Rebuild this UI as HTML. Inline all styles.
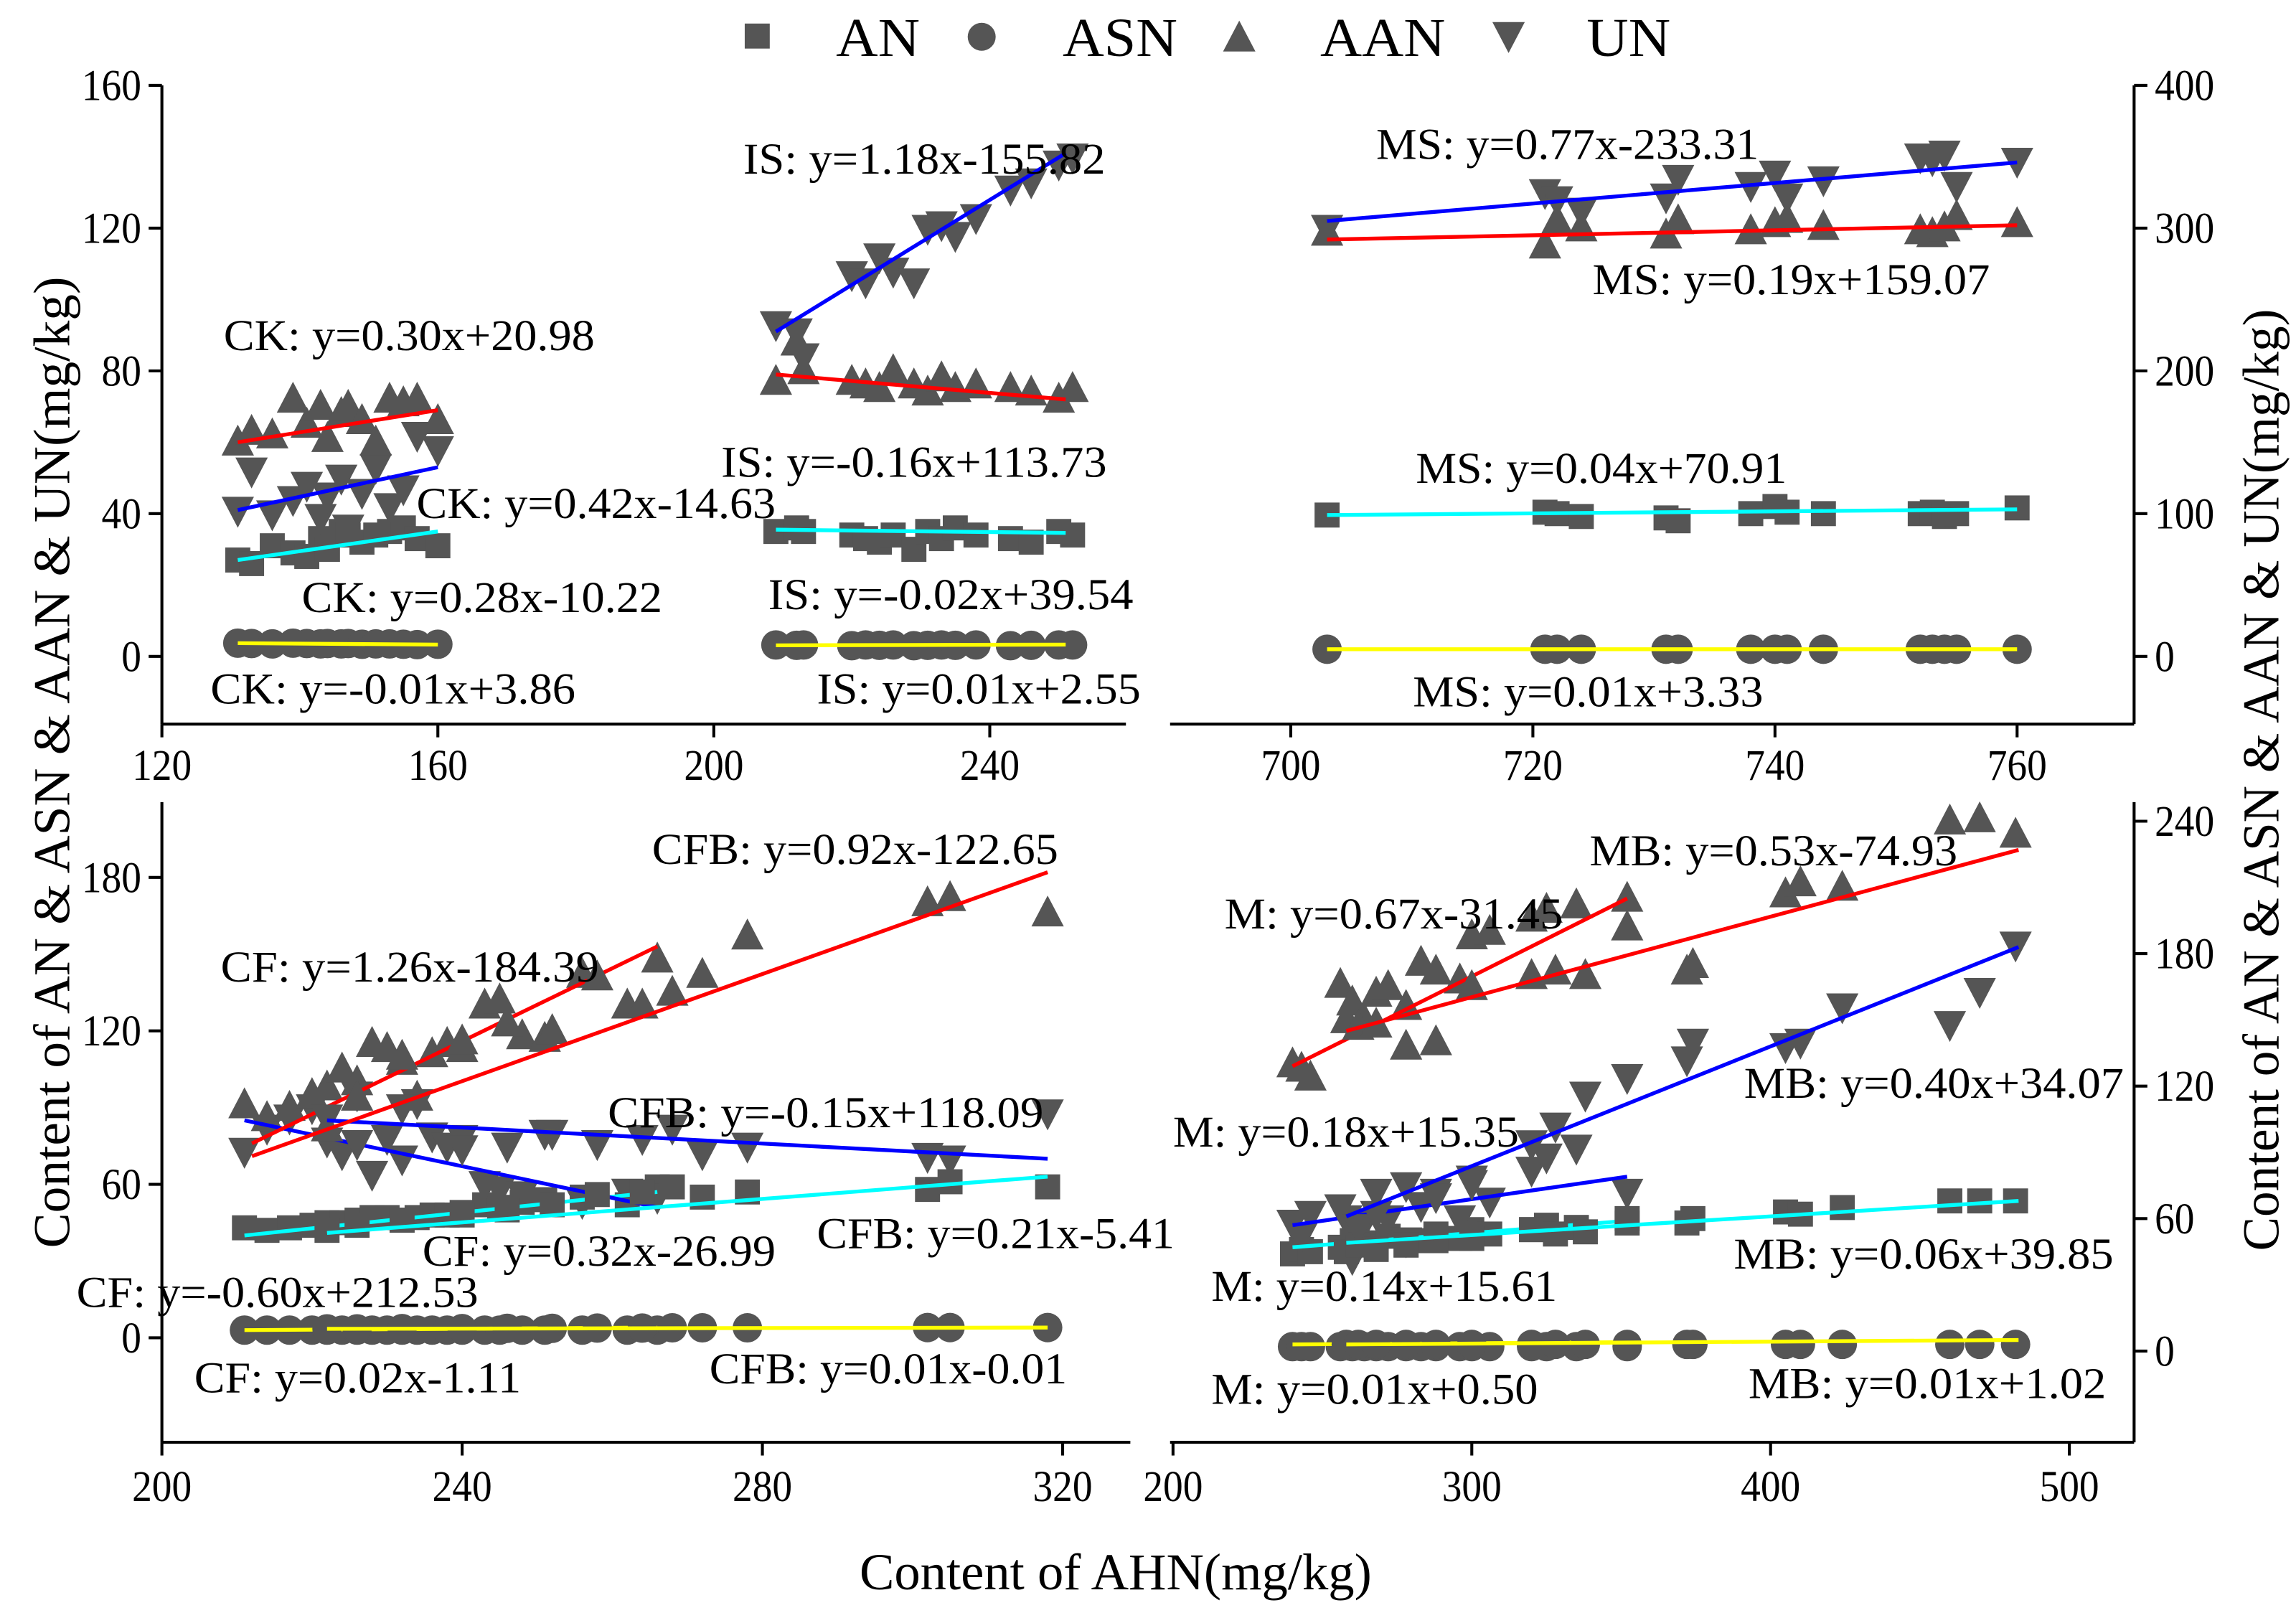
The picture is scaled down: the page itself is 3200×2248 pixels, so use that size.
<!DOCTYPE html>
<html><head><meta charset="utf-8">
<style>
html,body{margin:0;padding:0;background:#fff;}
svg{display:block;}
text{font-family:"Liberation Serif","DejaVu Serif",serif;fill:#000;}
</style></head>
<body>
<svg id="chart" width="3200" height="2248" viewBox="0 0 1560 1096" preserveAspectRatio="none" xmlns="http://www.w3.org/2000/svg">
<rect width="1560" height="1096" fill="#fff"/>
<g>
  <rect x="506" y="16" width="17" height="17" fill="#555"/>
  <text x="568" y="38" font-size="37" textLength="57" lengthAdjust="spacingAndGlyphs">AN</text>
  <circle cx="667" cy="25" r="9.5" fill="#555"/>
  <text x="722" y="38" font-size="37" textLength="78" lengthAdjust="spacingAndGlyphs">ASN</text>
  <polygon points="842,14 853,35 831,35" fill="#555"/>
  <text x="897" y="38" font-size="37" textLength="85" lengthAdjust="spacingAndGlyphs">AAN</text>
  <polygon points="1014,15 1036,15 1025,36" fill="#555"/>
  <text x="1078" y="38" font-size="37" textLength="57" lengthAdjust="spacingAndGlyphs">UN</text>
</g>
<text x="758" y="1080" font-size="35" text-anchor="middle" textLength="348" lengthAdjust="spacingAndGlyphs">Content of AHN(mg/kg)</text>
<text transform="translate(47,518) rotate(-90)" font-size="35" text-anchor="middle" textLength="660" lengthAdjust="spacingAndGlyphs">Content of AN &amp; ASN &amp; AAN &amp; UN(mg/kg)</text>
<text transform="translate(1548,530) rotate(-90)" font-size="35" text-anchor="middle" textLength="640" lengthAdjust="spacingAndGlyphs">Content of AN &amp; ASN &amp; AAN &amp; UN(mg/kg)</text>
<g id="plots"></g>
</svg>
<script>
// ---- data ----
const CK_x   = [131,133,136,139,141,143,144,146,147,149,151,153,155,157,160];
const CK_AN  = [27,26,31,29,28,33,30,35,34,32,34,35,36,33,31];
const CK_ASN = [3.7,3.6,3.5,3.7,3.6,3.5,3.6,3.5,3.6,3.4,3.5,3.5,3.4,3.3,3.4];
const CK_AAN = [60,63,62,72,65,70,61,68,70,66,60,72,71,72,66];
const CK_UN  = [41,52,40,44,48,39,45,50,36,46,53,42,47,62,58];
const IS_x   = [209,212,213,220,222,224,226,229,231,233,235,238,243,246,250,252];
const IS_AN  = [35,36,35,34,33,32,34,30,35,33,36,34,33,32,35,34];
const IS_ASN = [3.2,3.1,3.2,3.0,3.2,3.1,3.2,3.0,3.1,3.2,3.1,3.2,3.0,3.1,3.2,3.2];
const IS_AAN = [77,88,80,77,76,75,80,76,74,78,75,76,75,74,72,75];
const IS_UN  = [93,91,84,107,105,112,108,105,120,121,118,123,131,133,138,140];
const MS_x   = [703,721,722,724,731,732,738,740,741,744,752,753,754,755,760];
const MS_AN  = [99,101,100,98,97,95,100,105,101,100,100,101,98,100,104];
const MS_ASN = [5,5,5,5,5,5,5,5,5,5,5,5,5,5,5];
const MS_AAN = [297,288,305,300,295,305,298,303,306,301,298,296,300,308,303];
const MS_UN  = [300,325,320,312,322,335,330,338,322,334,350,348,352,330,347];
const CF_x   = [211,214,217,220,222,224,226,228,230,232,234,236,238,240,243,245,248,251,256,262,266];
const CF_AN  = [43,42,43,44,45,45,46,47,47,46,47,48,48,49,52,51,53,54,55,52,59];
const CF_ASN = [3,3,3,3,3,3,3,3,3,3,3,3,3,3,3,3,3,3,3,3,3];
const CF_AAN = [91,86,90,95,98,105,100,115,113,108,94,111,115,113,130,132,118,117,142,130,148];
const CF_UN  = [73,82,86,90,77,72,95,64,78,70,92,79,75,78,60,58,56,80,53,57,55];
const CFB_x   = [222,226,232,240,246,252,258,264,268,272,278,302,305,318];
const CFB_AN  = [42,44,46,48,50,52,56,57,59,55,57,58,61,59];
const CFB_ASN = [3.5,3.5,3.6,3.6,3.7,3.7,3.8,3.8,3.9,3.9,3.9,4,4,4];
const CFB_AAN = [82,94,110,116,123,120,141,130,135,142,157,170,172,166];
const CFB_UN  = [86,76,90,74,75,80,76,78,82,72,75,71,70,88];
const M_x   = [240,243,246,256,260,264,268,272,278,283,288,296,300,306,320,325,335,352];
const M_AN  = [44,46,45,47,50,49,47,52,48,50,53,51,55,53,55,57,56,58];
const M_ASN = [2,2,2,2,2,2,2,2,2,2,2,2,2,2,2,2,2,2];
const M_AAN = [130,128,124,166,158,150,162,165,156,176,172,168,188,190,196,200,202,205];
const M_UN  = [58,52,62,65,42,58,72,60,50,66,72,60,78,68,82,88,92,72];
const MB_x   = [258,262,268,278,288,300,320,328,338,352,372,374,405,410,424,460,470,482];
const MB_AN  = [45,48,46,48,50,51,55,53,54,60,58,60,63,62,65,68,68,68];
const MB_ASN = [3,3,3,3,3,3,3,3,3,3,3,3,3,3,3,3,3,3];
const MB_AAN = [150,147,148,138,140,165,170,172,170,192,172,175,207,212,210,240,241,234];
const MB_UN  = [60,56,62,75,70,76,94,102,116,124,132,140,138,140,156,148,163,184];
// fit lines [x1,y1,x2,y2] in data units
const CK_fits  = {AAN:[131,60,160,69], UN:[131,41,160,53], AN:[131,27,160,35], ASN:[131,3.7,160,3.3]};
const IS_fits  = {AAN:[209,79,251,72], UN:[209,91,251,141], AN:[209,35.5,251,34.6], ASN:[209,3.1,251,3.3]};
const MS_fits  = {AAN:[703,292,760,302], UN:[703,305,760,346], AN:[703,99,760,103], ASN:[703,5,760,5]};
const CF_fits  = {AAN:[212,76,266,153], UN:[211,85,266,51], AN:[211,40,266,57], ASN:[211,3,266,4]};
const CFB_fits = {AAN:[212,71,318,182], UN:[222,85,318,70], AN:[222,41,318,63], ASN:[222,3.5,318,4]};
const M_fits   = {AAN:[240,129,352,205], UN:[240,57,352,79], AN:[240,47,352,59], ASN:[240,3,352,4]};
const MB_fits  = {AAN:[258,145,483,227], UN:[258,61,483,183], AN:[258,49,483,68], ASN:[258,3,483,5]};
// tick labels
const TL_xticks = [120,160,200,240];
const TL_yticks = [0,40,80,120,160];
const TR_xticks = [700,720,740,760];
const TR_yticks = [0,100,200,300,400];
const BL_xticks = [200,240,280,320];
const BL_yticks = [0,60,120,180];
const BR_xticks = [200,300,400,500];
const BR_yticks = [0,60,120,180,240];

// ---- axes (pixel mapping in viewBox units) ----
const panels = {
  TL:{x:v=>110+(v-120)*4.6875, y:v=>446-v*2.425, x0:110,x1:765,y0:58,y1:492, side:'left', xt:TL_xticks, yt:TL_yticks, xl:530},
  TR:{x:v=>877+(v-700)*8.225, y:v=>446-v*0.970, x0:795,x1:1450,y0:58,y1:492, side:'right', xt:TR_xticks, yt:TR_yticks, xl:530},
  BL:{x:v=>110+(v-200)*5.1, y:v=>909-v*1.738, x0:110,x1:768,y0:545,y1:980, side:'left', xt:BL_xticks, yt:BL_yticks, xl:1020},
  BR:{x:v=>797+(v-200)*2.03, y:v=>918-v*1.5, x0:795,x1:1450,y0:545,y1:980, side:'right', xt:BR_xticks, yt:BR_yticks, xl:1020}
};
const NS='http://www.w3.org/2000/svg';
const root=document.getElementById('plots');
function mk(tag,attrs,parent){const e=document.createElementNS(NS,tag);for(const k in attrs)e.setAttribute(k,attrs[k]);(parent||root).appendChild(e);return e;}

for(const key in panels){
  const p=panels[key];
  const g=mk('g',{});
  
  
  const xa=mk('line',{x1:p.x0,y1:p.y1,x2:p.x1,y2:p.y1,stroke:'#000','stroke-width':2},g);
  
  
  const ax=p.side==='left'?p.x0:p.x1;
  const ya=mk('line',{x1:ax,y1:p.y0,x2:ax,y2:p.y1,stroke:'#000','stroke-width':2},g);
  
  
  p.xt.forEach(v=>{
    const X=p.x(v);
    const t=mk('line',{x1:X,y1:p.y1,x2:X,y2:p.y1+9,stroke:'#000','stroke-width':2},g);
    
    
    const l=mk('text',{x:X,y:p.xl,'font-size':30,'text-anchor':'middle',textLength:String(v).length*13.5,lengthAdjust:'spacingAndGlyphs'},g);
    l.textContent=v;
    
    
  });
  p.yt.forEach(v=>{
    const Y=p.y(v);
    const dx=p.side==='left'?-9:9;
    const t=mk('line',{x1:ax,y1:Y,x2:ax+dx,y2:Y,stroke:'#000','stroke-width':2},g);
    
    
    const l=mk('text',{x:p.side==='left'?ax-14:ax+14,y:Y+10,'font-size':30,'text-anchor':p.side==='left'?'end':'start',textLength:String(v).length*13.5,lengthAdjust:'spacingAndGlyphs'},g);
    l.textContent=v;
    
    
  });
}

const FILL='#555';
function marker(kind,X,Y,g){
  let e;
  if(kind==='AN') e=mk('rect',{x:X-8.5,y:Y-8.5,width:17,height:17,fill:FILL},g);
  else if(kind==='ASN') e=mk('circle',{cx:X,cy:Y,r:10,fill:FILL},g);
  else if(kind==='AAN') e=mk('polygon',{points:`${X},${Y-12} ${X+11},${Y+9} ${X-11},${Y+9}`,fill:FILL},g);
  else e=mk('polygon',{points:`${X-11},${Y-9} ${X+11},${Y-9} ${X},${Y+12}`,fill:FILL},g);
  
  
}
const groups=[
  ['CK','TL',CK_x,{AN:CK_AN,ASN:CK_ASN,AAN:CK_AAN,UN:CK_UN},CK_fits],
  ['IS','TL',IS_x,{AN:IS_AN,ASN:IS_ASN,AAN:IS_AAN,UN:IS_UN},IS_fits],
  ['MS','TR',MS_x,{AN:MS_AN,ASN:MS_ASN,AAN:MS_AAN,UN:MS_UN},MS_fits],
  ['CF','BL',CF_x,{AN:CF_AN,ASN:CF_ASN,AAN:CF_AAN,UN:CF_UN},CF_fits],
  ['CFB','BL',CFB_x,{AN:CFB_AN,ASN:CFB_ASN,AAN:CFB_AAN,UN:CFB_UN},CFB_fits],
  ['M','BR',M_x,{AN:M_AN,ASN:M_ASN,AAN:M_AAN,UN:M_UN},M_fits],
  ['MB','BR',MB_x,{AN:MB_AN,ASN:MB_ASN,AAN:MB_AAN,UN:MB_UN},MB_fits]
];
const lineColor={AAN:'#ff0000',UN:'#0000ff',AN:'#00ffff',ASN:'#ffff00'};
groups.forEach(([name,pk,xs,series,fits])=>{
  const p=panels[pk];
  const g=mk('g',{});
  
  
  ['ASN','AN','UN','AAN'].forEach(s=>{xs.forEach((xv,i)=>marker(s,p.x(xv),p.y(series[s][i]),g));});
  ['ASN','AN','UN','AAN'].forEach(s=>{
    const f=fits[s];
    const l=mk('line',{x1:p.x(f[0]),y1:p.y(f[1]),x2:p.x(f[2]),y2:p.y(f[3]),stroke:lineColor[s],'stroke-width':2.6},g);
    
    
  });
});

const labels=[
 ['CK: y=0.30x+20.98',152,238,252],['CK: y=0.42x-14.63',283,352,244],['CK: y=0.28x-10.22',205,416,245],['CK: y=-0.01x+3.86',143,478,248],
 ['IS: y=1.18x-155.82',505,118,246],['IS: y=-0.16x+113.73',490,324,262],['IS: y=-0.02x+39.54',522,414,248],['IS: y=0.01x+2.55',555,478,220],
 ['MS: y=0.77x-233.31',935,108,260],['MS: y=0.19x+159.07',1082,200,270],['MS: y=0.04x+70.91',962,328,252],['MS: y=0.01x+3.33',960,480,238],
 ['CFB: y=0.92x-122.65',443,587,276],['CF: y=1.26x-184.39',150,667,257],['CFB: y=-0.15x+118.09',413,766,296],['CF: y=0.32x-26.99',287,860,240],
 ['CFB: y=0.21x-5.41',555,848,243],['CF: y=-0.60x+212.53',52,888,273],['CF: y=0.02x-1.11',132,946,222],['CFB: y=0.01x-0.01',482,940,243],
 ['MB: y=0.53x-74.93',1080,588,250],['M: y=0.67x-31.45',832,631,230],['MB: y=0.40x+34.07',1185,746,258],['M: y=0.18x+15.35',797,779,235],
 ['MB: y=0.06x+39.85',1178,862,258],['M: y=0.14x+15.61',823,884,235],['M: y=0.01x+0.50',823,954,222],['MB: y=0.01x+1.02',1188,950,243]
];
const lg=mk('g',{});


labels.forEach(([t,x,y,w])=>{
  const e=mk('text',{x:x,y:y,'font-size':30,textLength:w,lengthAdjust:'spacingAndGlyphs'},lg);
  e.textContent=t;
  
  
});
</script>
</body></html>
